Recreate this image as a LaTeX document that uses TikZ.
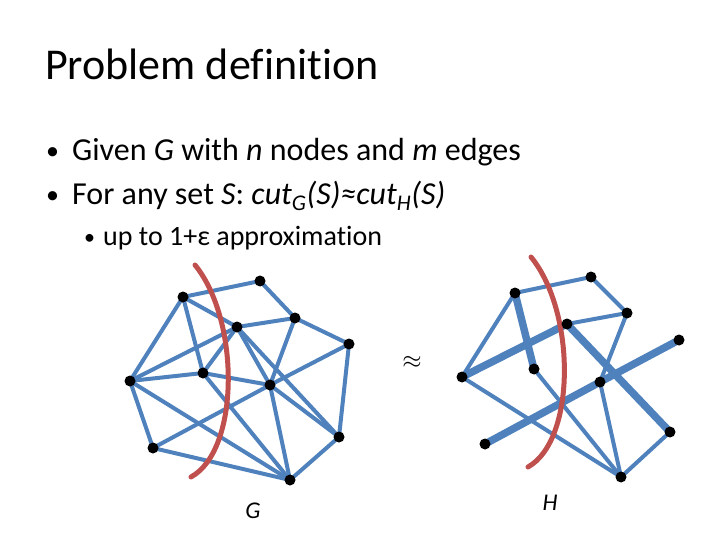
\documentclass[tikz,border=0pt]{standalone}
\usepackage{fontspec}
\setmainfont{Carlito}[Ligatures=NoCommon]
\usetikzlibrary{backgrounds}
\definecolor{edgeblue}{HTML}{4F81BD}
\definecolor{cutred}{HTML}{C0504D}
\tikzset{
  vtx/.style={circle, fill=black, inner sep=0pt, minimum size=11pt},
  lightedge/.style={edgeblue, line width=4pt},
  heavyedge/.style={edgeblue, line width=7.5pt},
  cutline/.style={cutred, line width=5pt, line cap=round},
  txt/.style={anchor=base west, inner sep=0pt},
}
\begin{document}
\begin{tikzpicture}[x=1pt,y=-1pt]
  \useasboundingbox (0,0) rectangle (720,540);
  % title and bullets
  \node[txt, font=\fontsize{44}{52}\selectfont] (title) at (45,80) {Problem definition};
  \node[txt, font=\fontsize{26}{30}\selectfont] (b1) at (46,160) {•};
  \node[txt, font=\fontsize{32}{38}\selectfont] (l1) at (72,161) {Given \textit{G} with \textit{n} nodes and \textit{m} edges};
  \node[txt, font=\fontsize{26}{30}\selectfont] (b2) at (46,204) {•};
  \node[txt, font=\fontsize{32}{38}\selectfont] (l2) at (72,205) {For any set \textit{S}: \textit{cut\textsubscript{G}(S)≈cut\textsubscript{H}(S)}};
  \node[txt, font=\fontsize{22}{26}\selectfont] (b3) at (84,244) {•};
  \node[txt, font=\fontsize{28}{33}\selectfont] (l3) at (103,245) {up to 1+ε approximation};
  % graph G
  \node[vtx] (ga) at (260,281) {};
  \node[vtx] (gb) at (183,297) {};
  \node[vtx] (gc) at (295,318) {};
  \node[vtx] (gd) at (237,327) {};
  \node[vtx] (ge) at (349,344) {};
  \node[vtx] (gf) at (130,381) {};
  \node[vtx] (gg) at (203,373) {};
  \node[vtx] (gh) at (270,385) {};
  \node[vtx] (gi) at (339,437) {};
  \node[vtx] (gj) at (153,448) {};
  \node[vtx] (gk) at (290,480) {};
  % graph H
  \node[vtx] (ha) at (591,277) {};
  \node[vtx] (hb) at (515,293) {};
  \node[vtx] (hc) at (627,313) {};
  \node[vtx] (hd) at (567,324) {};
  \node[vtx] (he) at (679,340) {};
  \node[vtx] (hf) at (462,377) {};
  \node[vtx] (hg) at (534,369) {};
  \node[vtx] (hh) at (600,382) {};
  \node[vtx] (hi) at (670,432) {};
  \node[vtx] (hj) at (485,444) {};
  \node[vtx] (hk) at (621,477) {};
  \begin{scope}[on background layer]
    \foreach \u/\v in {a/b,a/c,b/d,b/g,b/f,c/d,c/e,c/h,d/f,d/g,d/h,d/i,e/h,e/i,
                       f/g,g/h,f/j,f/k,h/j,j/k,g/k,h/k,h/i,i/k}
      \draw[lightedge] (g\u.center) -- (g\v.center);
    \foreach \u/\v in {a/b,a/c,b/f,c/d,c/h,f/k,g/k,h/k,i/k}
      \draw[lightedge] (h\u.center) -- (h\v.center);
    \foreach \u/\v in {b/g,d/f,d/i,h/j,h/e}
      \draw[heavyedge] (h\u.center) -- (h\v.center);
    % the cuts
    \draw[cutline] (195,265) .. controls (240,320) and (240,450) .. (191,477);
    \draw[cutline] (531,257) .. controls (576,312) and (576,440) .. (528,467);
  \end{scope}
  \node[font=\fontsize{44}{44}\selectfont] (apx) at (412,362) {$\approx$};
  \node[font=\fontsize{24}{28}\selectfont\itshape] (lg) at (253,511) {G};
  \node[font=\fontsize{24}{28}\selectfont\itshape] (lh) at (550,503) {H};
\end{tikzpicture}
\end{document}
